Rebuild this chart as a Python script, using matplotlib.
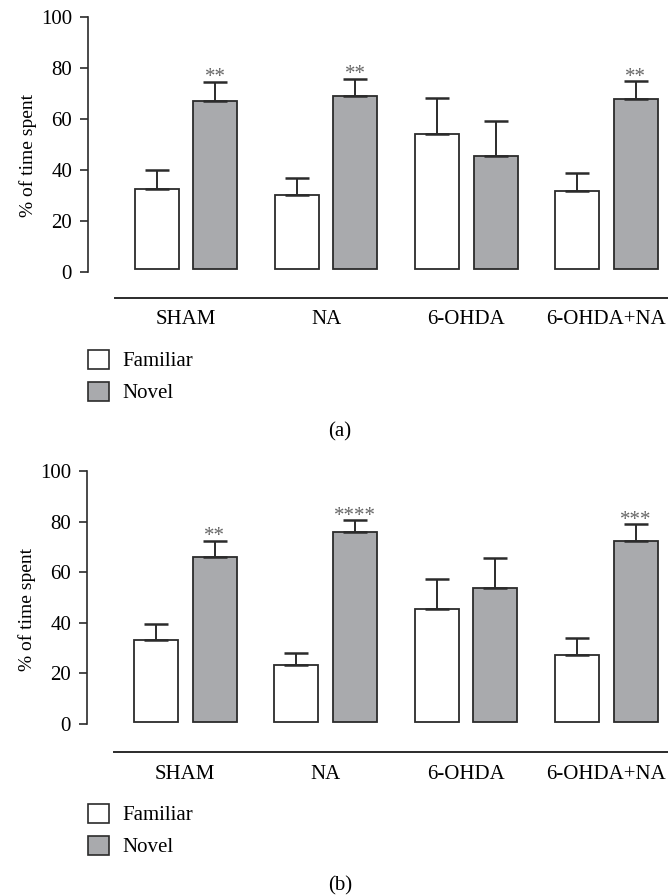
import numpy as np
import matplotlib.pyplot as plt
from matplotlib.patches import Patch

groups = ["SHAM", "NA", "6-OHDA", "6-OHDA+NA"]

# panel (a)
fam_a = [32.5, 30.2, 54.1, 31.8]
fam_a_top = [40.0, 37.0, 68.1, 38.8]
nov_a = [66.9, 69.1, 45.4, 67.7]
nov_a_top = [74.6, 75.8, 59.1, 74.9]
stars_a = ["**", "**", "", "**"]

# panel (b)
fam_b = [33.2, 23.3, 45.3, 27.1]
fam_b_top = [39.5, 28.2, 57.3, 34.0]
nov_b = [66.0, 76.0, 53.9, 72.2]
nov_b_top = [72.5, 80.6, 65.6, 79.0]
stars_b = ["**", "****", "", "***"]

plt.rcParams['font.family'] = ['Liberation Serif', 'DejaVu Serif']
GRAY = '#a9aaad'
EDGE = '#2b2b2b'
FS = 15

fig = plt.figure(figsize=(6.68, 8.96), dpi=100)


def panel(rect, fam, fam_top, nov, nov_top, stars, base, xline_y, leg_top, tag, tag_y):
    ax = fig.add_axes(rect)
    x = np.arange(len(groups))
    w = 0.314
    off = 0.209
    fam = np.array(fam)
    nov = np.array(nov)
    fam_err = np.array(fam_top) - fam
    nov_err = np.array(nov_top) - nov
    ekw = dict(ecolor=EDGE, elinewidth=1.4, capthick=1.8, capsize=8.3)
    ax.bar(x - off, fam - base, w, bottom=base, color='white', edgecolor=EDGE,
           linewidth=1.3, yerr=[np.zeros(4), fam_err], error_kw=ekw, zorder=2)
    ax.bar(x + off, nov - base, w, bottom=base, color=GRAY, edgecolor=EDGE,
           linewidth=1.3, yerr=[np.zeros(4), nov_err], error_kw=ekw, zorder=2)
    for i, s in enumerate(stars):
        if s:
            ax.text(x[i] + off, nov_top[i] - 0.2, s, ha='center', va='baseline',
                    fontsize=FS, color='#666666')

    ax.set_xlim(-0.70, 3.44)
    ax.set_ylim(xline_y, 102)
    ax.spines['top'].set_visible(False)
    ax.spines['right'].set_visible(False)
    ax.spines['left'].set_bounds(0, 100)
    ax.spines['bottom'].set_bounds(-0.51, 3.44)
    ax.spines['left'].set_linewidth(1.2)
    ax.spines['bottom'].set_linewidth(1.4)
    ax.spines['left'].set_color(EDGE)
    ax.spines['bottom'].set_color(EDGE)
    ax.set_yticks([0, 20, 40, 60, 80, 100])
    ax.tick_params(axis='y', length=6, width=1.2, color=EDGE, labelsize=FS, pad=5.5)
    ax.set_xticks(x)
    ax.set_xticklabels(groups)
    ax.tick_params(axis='x', length=0, labelsize=FS, pad=9)
    ax.set_ylabel("% of time spent", fontsize=14, labelpad=3)

    handles = [Patch(facecolor='white', edgecolor=EDGE, linewidth=1.2, label='Familiar'),
               Patch(facecolor=GRAY, edgecolor=EDGE, linewidth=1.2, label='Novel')]
    fig.legend(handles=handles, loc='upper left', bbox_to_anchor=(88 / 668, leg_top),
               frameon=False, fontsize=FS, handlelength=1.0, handleheight=1.0,
               handletextpad=0.65, labelspacing=0.5, borderpad=0, borderaxespad=0)
    fig.text(340 / 668, tag_y, tag, ha='center', va='center', fontsize=FS)
    return ax


panel([88 / 668, (896 - 298) / 896, 580 / 668, (298 - 11.9) / 896],
      fam_a, fam_a_top, nov_a, nov_a_top, stars_a, 1.2, -10.2,
      1 - 350 / 896, "(a)", 1 - 432 / 896)
panel([87 / 668, (896 - 752) / 896, 581 / 668, (752 - 466) / 896],
      fam_b, fam_b_top, nov_b, nov_b_top, stars_b, 0.8, -11.1,
      1 - 804 / 896, "(b)", 1 - 886 / 896)

fig.savefig("out.png", dpi=100)
